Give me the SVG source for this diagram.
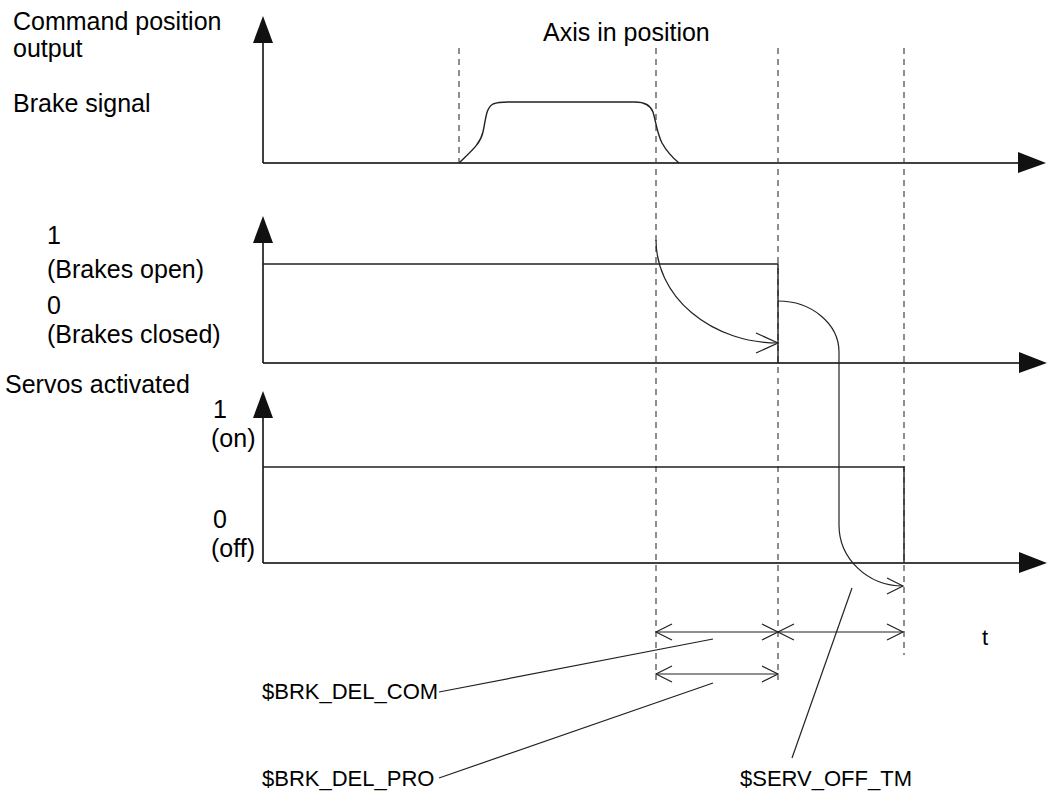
<svg xmlns="http://www.w3.org/2000/svg" width="1048" height="807" viewBox="0 0 1048 807">
<style>
text{font-family:"Liberation Sans",Arial,sans-serif;font-size:25px;fill:#000}
.b{font-size:22px}
.ax{stroke:#000;stroke-width:1.5;fill:none}
.sig{stroke:#222;stroke-width:1.4;fill:none}
.dash{stroke:#444;stroke-width:1.2;stroke-dasharray:6,5;fill:none}
.thin{stroke:#222;stroke-width:1.2;fill:none}
.head{fill:#111;stroke:none}
</style>
<defs>
<marker id="open" viewBox="0 0 20 20" refX="18" refY="10" markerWidth="20" markerHeight="20" markerUnits="userSpaceOnUse" orient="auto-start-reverse">
<path d="M2,2 L18,10 L2,18" fill="none" stroke="#222" stroke-width="1.2"/>
</marker>
<marker id="openL" viewBox="0 0 26 26" refX="24" refY="13" markerWidth="26" markerHeight="26" markerUnits="userSpaceOnUse" orient="auto">
<path d="M2,3 L24,13 L2,23" fill="none" stroke="#222" stroke-width="1.2"/>
</marker>
</defs>
<rect width="1048" height="807" fill="#fff"/>
<g id="labels">
<text x="13" y="30">Command position</text>
<text x="13" y="57">output</text>
<text x="13" y="112">Brake signal</text>
<text x="543" y="41">Axis in position</text>
<text x="47" y="244">1</text>
<text x="47" y="278">(Brakes open)</text>
<text x="47" y="314">0</text>
<text x="47" y="343">(Brakes closed)</text>
<text x="5" y="393">Servos activated</text>
<text x="213" y="418">1</text>
<text x="211" y="447">(on)</text>
<text x="213" y="528">0</text>
<text x="211" y="557">(off)</text>
<text class="b" x="982" y="645">t</text>
<text class="b" x="262" y="699">$BRK_DEL_COM</text>
<text class="b" x="262" y="786">$BRK_DEL_PRO</text>
<text class="b" x="740" y="786">$SERV_OFF_TM</text>
</g>
<g id="axis-command">
<line class="ax" x1="263" y1="40" x2="263" y2="163"/>
<line class="ax" x1="263" y1="163" x2="1020" y2="163"/>
<polygon class="head" points="253,43 273,43 263,16"/>
<polygon class="head" points="1018,152 1018,173 1046,163"/>
</g>
<g id="axis-brake">
<line class="ax" x1="263" y1="240" x2="263" y2="363"/>
<line class="ax" x1="263" y1="363" x2="1020" y2="363"/>
<polygon class="head" points="253,243 273,243 263,216"/>
<polygon class="head" points="1019,352 1019,373 1047,363"/>
</g>
<g id="axis-servo">
<line class="ax" x1="263" y1="415" x2="263" y2="563"/>
<line class="ax" x1="263" y1="563" x2="1020" y2="563"/>
<polygon class="head" points="253,418 273,418 263,391"/>
<polygon class="head" points="1019,552 1019,573 1047,563"/>
</g>
<g id="dashed-markers">
<line class="dash" x1="459" y1="48" x2="459" y2="163"/>
<line class="dash" x1="656" y1="48" x2="656" y2="680"/>
<line class="dash" x1="778" y1="48" x2="778" y2="680"/>
<line class="dash" x1="904" y1="48" x2="904" y2="655"/>
</g>
<g id="brake-signal">
<path class="sig" d="M459,163 C470,152 480,145 483,132 C486,118 486,108 493,104 C498,102 503,102 508,102 L635,102 C642,102 650,104 653,112 C656,122 657,133 662,143 C667,152 673,158 679,163"/>
</g>
<g id="brake-state">
<path class="sig" d="M263,264 L778,264 L778,363"/>
</g>
<g id="servo-state">
<path class="sig" d="M263,467 L904,467 L904,563"/>
</g>
<g id="connectors">
<path class="thin" d="M656,240 A122,103 0 0 0 778,343" marker-end="url(#openL)"/>
<path class="thin" d="M778,301 A61,51 0 0 1 839,352 L839,525 A64,61 0 0 0 903,586" marker-end="url(#open)"/>
<line class="thin" x1="656" y1="632" x2="778" y2="632" marker-start="url(#open)" marker-end="url(#open)"/>
<line class="thin" x1="778" y1="632" x2="903" y2="632" marker-start="url(#open)" marker-end="url(#open)"/>
<line class="thin" x1="656" y1="674" x2="778" y2="674" marker-start="url(#open)" marker-end="url(#open)"/>
<line class="thin" x1="439" y1="692" x2="713" y2="639"/>
<line class="thin" x1="439" y1="778" x2="713" y2="683"/>
<line class="thin" x1="792" y1="758" x2="852" y2="588"/>
</g>
</svg>
